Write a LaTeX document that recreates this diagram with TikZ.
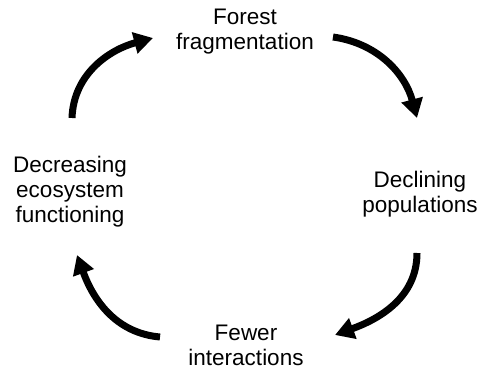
\documentclass[tikz,border=0pt]{standalone}
\usepackage{fontspec}
\setmainfont{Liberation Sans}
\usetikzlibrary{arrows.meta, positioning}

\tikzset{
  lbl/.style={align=center, inner sep=0pt, font=\fontsize{22.5}{25}\selectfont},
  cyc/.style={line width=7pt, -{Triangle[length=19pt,width=21pt]}}
}

\begin{document}
\begin{tikzpicture}[x=1pt,y=-1pt]
\useasboundingbox (0,0) rectangle (484,371);
\node (forest) at (245,32) [lbl] {Forest\\fragmentation};
\node (declpop) at (420,194) [lbl] {Declining\\populations};
\node (fewer) at (246,345) [lbl] {Fewer\\interactions};
\node (decreco) at (70,192) [lbl] {Decreasing\\ecosystem\\functioning};
\coordinate (a1s) at (333,37);
\coordinate (a1e) at (417,118);
\coordinate (a2s) at (417,253);
\coordinate (a2e) at (335,335);
\coordinate (a3s) at (160,337);
\coordinate (a3e) at (77,255);
\coordinate (a4s) at (72,118);
\coordinate (a4e) at (153,38);
\draw [cyc] (a1s) to[out=-8,in=105] (a1e);
\draw [cyc] (a2s) to[out=-90,in=20] (a2e);
\draw [cyc] (a3s) to[out=175,in=-70] (a3e);
\draw [cyc] (a4s) to[out=88,in=195] (a4e);
\end{tikzpicture}
\end{document}
